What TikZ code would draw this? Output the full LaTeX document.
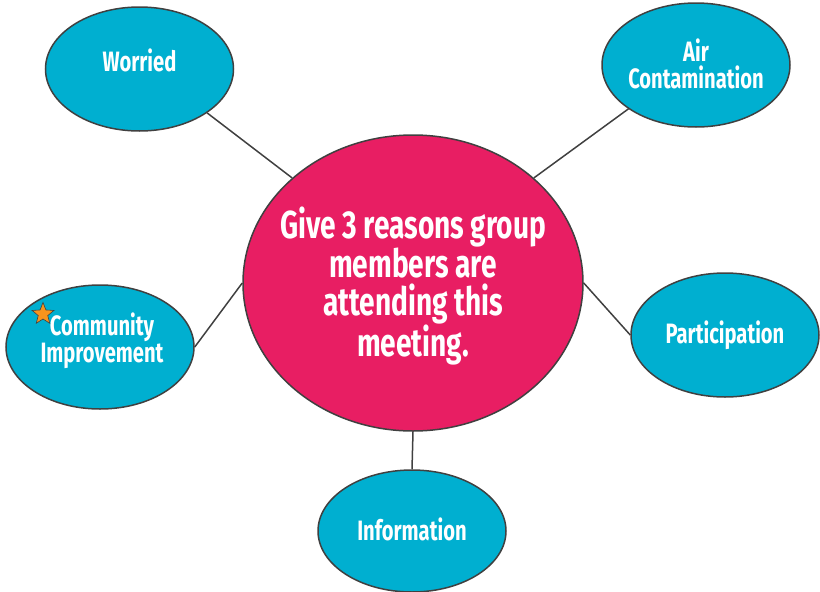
\documentclass[tikz,border=0pt]{standalone}
\usepackage{fontspec}
\newfontfamily\lblfont[FakeStretch=0.72]{Fira Sans}
\usetikzlibrary{shapes.geometric}
\definecolor{bubblecyan}{RGB}{0,175,208}
\definecolor{hubpink}{RGB}{232,30,99}
\definecolor{edgegray}{RGB}{64,64,64}
\definecolor{starorange}{RGB}{247,148,29}
\begin{document}
\begin{tikzpicture}[x=1pt,y=-1pt,
  bubble/.style={ellipse, draw=edgegray, line width=1.5pt, fill=bubblecyan, inner sep=0pt, minimum width=188pt, minimum height=124pt},
  hub/.style={ellipse, draw=edgegray, line width=1.5pt, fill=hubpink, inner sep=0pt, minimum width=340pt, minimum height=296pt},
  lbl/.style={text=white, font=\lblfont\bfseries\fontsize{28}{27}\selectfont, align=center, inner sep=0pt},
  hublbl/.style={text=white, font=\lblfont\bfseries\fontsize{39}{37.5}\selectfont, align=center, inner sep=0pt},
  link/.style={draw=edgegray, line width=1.5pt},
  starmark/.style={star, star points=5, star point ratio=2.3, fill=starorange, draw=edgegray, line width=0.6pt, inner sep=0pt, minimum size=23pt}]
\useasboundingbox (0,0) rectangle (820,592);
\node[hub] (c) at (413,283) {};
\node[bubble] (w) at (139.5,69) {};
\node[bubble] (a) at (696,65) {};
\node[bubble] (m) at (100,347) {};
\node[bubble] (p) at (725,335) {};
\node[bubble, minimum height=122pt] (i) at (412,531) {};
\draw[link] (w.-33) -- (c.139);
\draw[link] (a.213) -- (c.41);
\draw[link] (m.east) -- (c.west);
\draw[link] (p.west) -- (c.east);
\draw[link] (i.north) -- (c.south);
\node[hublbl] (ct) at ([yshift=-3pt]c) {Give 3 reasons group\\members are\\attending this\\meeting.};
\node[lbl] (wt) at ([yshift=9pt]w) {Worried};
\node[lbl] (at) at ([yshift=1pt]a) {Air\\Contamination};
\node[lbl] (mt) at ([xshift=2pt,yshift=6pt]m) {Community\\Improvement};
\node[lbl] (pt) at (p) {Participation};
\node[lbl] (it) at ([yshift=2pt]i) {Information};
\node[starmark] (s) at (43,314) {};
\end{tikzpicture}
\end{document}
